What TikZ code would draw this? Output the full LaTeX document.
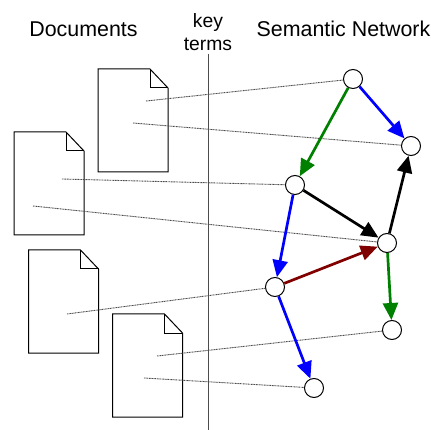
\documentclass[tikz,border=0pt]{standalone}
\usepackage{fontspec}
\setmainfont{Liberation Sans}
\usetikzlibrary{arrows.meta}
\definecolor{arcgreen}{RGB}{0,128,0}
\definecolor{arcblue}{RGB}{0,0,255}
\definecolor{arcred}{RGB}{128,0,0}
\tikzset{
	term/.style={circle,draw,fill=white,line width=1pt,minimum size=19pt,inner sep=0pt},
	arc/.style={line width=2.7pt,-{Triangle[length=17pt,width=15pt]},shorten >=0pt},
	link/.style={line width=0.9pt,draw=black!70,dash pattern=on 1pt off 0.6pt},
	title/.style={font=\fontsize{21.4}{24}\selectfont,anchor=base},
	page/.style={line width=1pt},
}
\begin{document}
\begin{tikzpicture}[x=1pt,y=-1pt]
\useasboundingbox (0,0) rectangle (431,430);
\node[title] (T-doc) at (83.5,37) {Documents};
\node[title] (T-net) at (343.5,37) {Semantic Network};
\node[font=\fontsize{19.3}{23}\selectfont,align=center] (T-key) at (208,32.5) {key\\terms};
\coordinate (L-top) at (208,54);
\coordinate (L-bot) at (208,430);
\draw[line width=1pt,draw=black!70] (L-top) -- (L-bot);
% documents
\foreach \d/\x/\y in {1/98/69,2/14/132,3/28.5/250,4/112.5/314} {
	\begin{scope}[shift={(\x,\y)}]
	\coordinate (D\d-a) at (0,0);
	\coordinate (D\d-b) at (52,0);
	\coordinate (D\d-c) at (70,19);
	\coordinate (D\d-d) at (70,103);
	\coordinate (D\d-e) at (0,103);
	\coordinate (D\d-f) at (52,19);
	\draw[page] (D\d-a) -- (D\d-b) -- (D\d-c) -- (D\d-d) -- (D\d-e) -- cycle;
	\draw[page] (D\d-b) -- (D\d-f) -- (D\d-c);
	\end{scope}
}
% network
\foreach \n/\x/\y in {1/353/79,2/411/146,3/295/185,4/387/243,5/275/287,6/392/330,7/314/388} {
	\node[term] (N\n) at (\x,\y) {};
}
% key term links
\foreach \n/\x/\y in {1/146/101,2/133/123,3/62/179,4/33/206,5/67/314,6/157/356,7/144/378} {
	\coordinate (K\n) at (\x,\y);
	\draw[link] (K\n) -- (N\n);
}
% arcs
\foreach \a/\b/\c in {1/3/arcgreen,1/2/arcblue,3/4/black,3/5/arcblue,5/4/arcred,4/2/black,4/6/arcgreen,5/7/arcblue} {
	\draw[arc,draw=\c] (N\a) -- (N\b);
}
\end{tikzpicture}
\end{document}
